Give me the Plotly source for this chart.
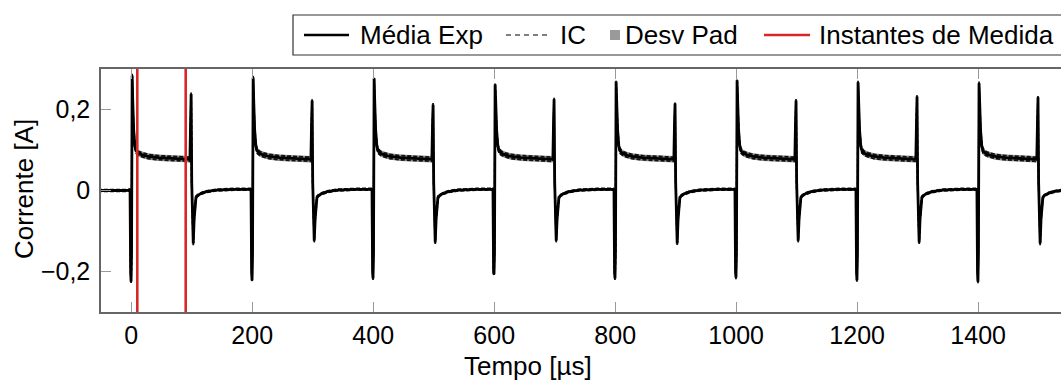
import plotly.graph_objects as go

# ---------------- data ----------------
# start time of each switching cycle [us]
cycle_starts = [0, 200, 400, 600, 800, 1000, 1200, 1400]
# spike amplitudes per cycle [A]
rise_trough = [-0.225, -0.222, -0.217, -0.207, -0.217, -0.215, -0.222, -0.225]
rise_peak = [0.284, 0.279, 0.277, 0.262, 0.269, 0.272, 0.267, 0.265]
fall_peak = [0.238, 0.222, 0.212, 0.225, 0.215, 0.222, 0.232, 0.230]
fall_trough = [-0.131, -0.124, -0.128, -0.124, -0.131, -0.124, -0.128, -0.131]

# one period of the averaged waveform: offsets [us] and values [A]
# (strings mark the per-cycle spike values above)
period_offset = [-2.0, -1.0, -0.3, 0.5, 1.5, 2.5, 4, 6, 8, 12, 18, 28, 45, 65, 85, 97,
                 98, 99, 100, 101.5, 102.5, 104, 105.5, 107, 110, 116, 124, 140, 170, 198.5]
period_value = [0.003, -0.20, "RT", -0.15, "RP", 0.22, 0.15, 0.11, 0.098, 0.092, 0.088,
                0.084, 0.081, 0.080, 0.078, 0.077,
                0.16, "FP", 0.02, -0.06, "FT", -0.07, -0.03, -0.017, -0.012, -0.007,
                -0.003, 0.001, 0.003, 0.003]
# half widths of standard-deviation band and confidence interval [A]
period_std = [0.003, 0.006, 0.006, 0.006, 0.006, 0.008, 0.009, 0.009, 0.009, 0.008, 0.008,
              0.008, 0.008, 0.008, 0.008, 0.008,
              0.006, 0.006, 0.006, 0.006, 0.006, 0.006, 0.005, 0.004, 0.003, 0.003,
              0.003, 0.003, 0.003, 0.003]
period_ci = [0.002, 0.004, 0.004, 0.004, 0.004, 0.005, 0.006, 0.006, 0.006, 0.005, 0.005,
             0.005, 0.005, 0.005, 0.005, 0.005,
             0.004, 0.004, 0.004, 0.004, 0.004, 0.004, 0.003, 0.003, 0.002, 0.002,
             0.002, 0.002, 0.002, 0.002]

# waveform before the first cycle
pre_time = [-55, -30, -10, -3]
pre_value = [0.0, -0.001, 0.0, 0.001]
pre_std = [0.003, 0.003, 0.003, 0.003]
pre_ci = [0.002, 0.002, 0.002, 0.002]

# measurement instants [us]
measure_times = [10, 90]

x_ticks = [0, 200, 400, 600, 800, 1000, 1200, 1400]
y_ticks = [-0.2, 0, 0.2]
y_tick_text = ["\u22120,2", "0", "0,2"]
x_range = [-50, 1537]
y_range = [-0.3, 0.3]

x_title = "Tempo [µs]"
y_title = "Corrente [A]"
legend_labels = ["Média Exp", "IC", "Desv Pad", "Instantes de Medida"]

# ---------------- assemble series ----------------
t, m, sd, ci = list(pre_time), list(pre_value), list(pre_std), list(pre_ci)
for k, t0 in enumerate(cycle_starts):
    marks = {"RT": rise_trough[k], "RP": rise_peak[k], "FP": fall_peak[k], "FT": fall_trough[k]}
    for off, v, s, c in zip(period_offset, period_value, period_std, period_ci):
        t.append(t0 + off)
        m.append(marks[v] if isinstance(v, str) else v)
        sd.append(s)
        ci.append(c)

lo_sd = [a - b for a, b in zip(m, sd)]
hi_sd = [a + b for a, b in zip(m, sd)]
lo_ci = [a - b for a, b in zip(m, ci)]
hi_ci = [a + b for a, b in zip(m, ci)]

FONT = "Liberation Sans, Arial, Helvetica, sans-serif"
GRAY_FILL = "#8f8f8f"
IC_COLOR = "#111111"
RED = "#d92626"

fig = go.Figure()
fig.add_trace(go.Scatter(x=t, y=lo_sd, mode="lines", line=dict(width=0, color=GRAY_FILL),
                         showlegend=False, hoverinfo="skip"))
fig.add_trace(go.Scatter(x=t, y=hi_sd, mode="lines", line=dict(width=0, color=GRAY_FILL),
                         fill="tonexty", fillcolor=GRAY_FILL, name=legend_labels[2], showlegend=False))
fig.add_trace(go.Scatter(x=t, y=lo_ci, mode="lines", line=dict(width=1.8, color=IC_COLOR, dash="4px,2px"),
                         name=legend_labels[1], showlegend=False))
fig.add_trace(go.Scatter(x=t, y=hi_ci, mode="lines", line=dict(width=1.8, color=IC_COLOR, dash="4px,2px"),
                         showlegend=False))
fig.add_trace(go.Scatter(x=t, y=m, mode="lines", line=dict(width=2.8, color="black"),
                         name=legend_labels[0], showlegend=False))

rx, ry = [], []
for tm in measure_times:
    rx += [tm, tm, None]
    ry += [y_range[0], y_range[1], None]
fig.add_trace(go.Scatter(x=rx, y=ry, mode="lines", line=dict(width=2.6, color=RED),
                         name=legend_labels[3], showlegend=False))

# ---------------- manual legend and titles (pixel layout -> paper coords) ----------------
PL, PR, PT, PB = 101, 1061, 69, 312
def px(xp):
    return (xp - PL) / (PR - PL)
def py(yp):
    return (PB - yp) / (PB - PT)

shapes = [
    dict(type="rect", xref="paper", yref="paper", x0=px(293), x1=px(1080), y0=py(55), y1=py(15),
         line=dict(color="#333333", width=1.2), fillcolor="white", layer="above"),
    dict(type="line", xref="paper", yref="paper", x0=px(304), x1=px(349), y0=py(35), y1=py(35),
         line=dict(color="black", width=2.5), layer="above"),
    dict(type="line", xref="paper", yref="paper", x0=px(506), x1=px(551), y0=py(35), y1=py(35),
         line=dict(color="#555555", width=1.5, dash="5px,4px"), layer="above"),
    dict(type="rect", xref="paper", yref="paper", x0=px(610), x1=px(620), y0=py(40), y1=py(30),
         line=dict(width=0), fillcolor="#9a9a9a", layer="above"),
    dict(type="line", xref="paper", yref="paper", x0=px(764), x1=px(810), y0=py(35), y1=py(35),
         line=dict(color=RED, width=2.5), layer="above"),
]
text_x = [358, 558, 623, 817]
annotations = [
    dict(text=lbl, xref="paper", yref="paper", x=px(xx), y=py(35), xanchor="left", yanchor="middle",
         showarrow=False, font=dict(family=FONT, size=26, color="black"))
    for lbl, xx in zip(legend_labels, text_x)
]
annotations.append(dict(text=x_title, xref="paper", yref="paper", x=px(528), y=py(366),
                        xanchor="center", yanchor="middle", showarrow=False,
                        font=dict(family=FONT, size=26, color="black")))
annotations.append(dict(text=y_title, xref="paper", yref="paper", x=px(24), y=py(189),
                        xanchor="center", yanchor="middle", showarrow=False, textangle=-90,
                        font=dict(family=FONT, size=26, color="black")))

fig.update_layout(
    width=1061, height=381,
    margin=dict(l=PL, r=1061 - PR, t=PT, b=381 - PB, autoexpand=False),
    paper_bgcolor="white", plot_bgcolor="white",
    font=dict(family=FONT, size=25, color="black"),
    showlegend=False,
    shapes=shapes, annotations=annotations,
    xaxis=dict(range=x_range, tickvals=x_ticks, ticktext=[str(v) for v in x_ticks],
               ticks="inside", ticklen=10, tickcolor="#999999", tickwidth=1,
               showline=True, linecolor="#666666", linewidth=1.5, mirror="ticks",
               showgrid=False, zeroline=False, tickfont=dict(size=25)),
    yaxis=dict(range=y_range, tickvals=y_ticks, ticktext=y_tick_text,
               ticks="inside", ticklen=10, tickcolor="#999999", tickwidth=1,
               showline=True, linecolor="#666666", linewidth=1.5, mirror=False,
               showgrid=False, zeroline=False, tickfont=dict(size=25),
               ticklabelstandoff=4),
)

fig.write_html("out.html")
